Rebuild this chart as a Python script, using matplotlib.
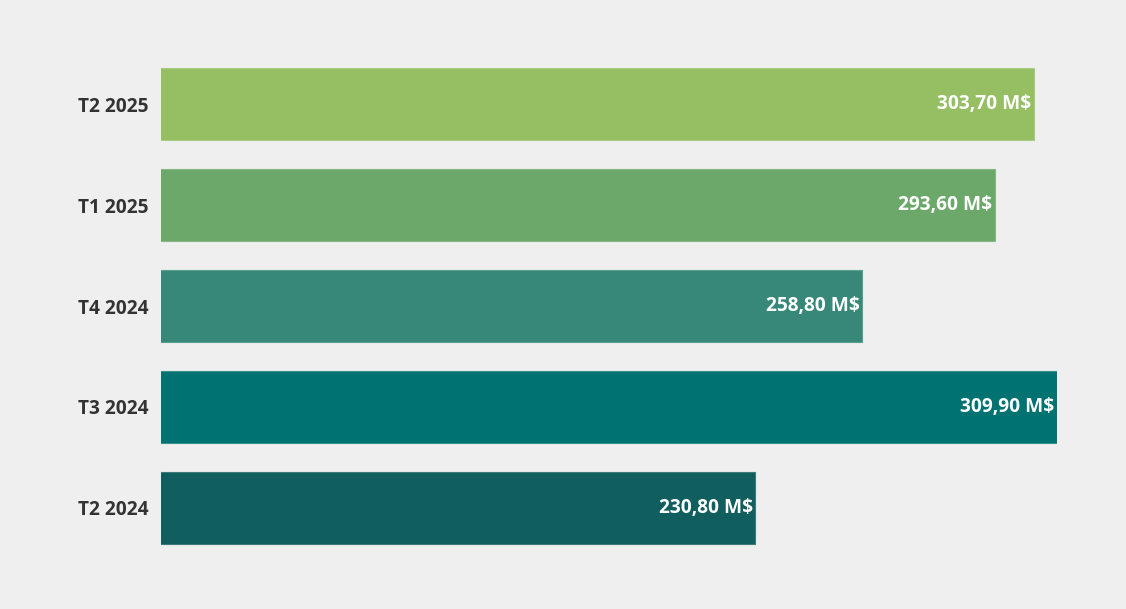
import matplotlib
matplotlib.use("Agg")
from matplotlib import pyplot as plt
from matplotlib import transforms

quarters = ["T2 2025", "T1 2025", "T4 2024", "T3 2024", "T2 2024"]
revenue = [303.70, 293.60, 258.80, 309.90, 230.80]
value_labels = ["303,70 M$", "293,60 M$", "258,80 M$", "309,90 M$", "230,80 M$"]
colors = ["#95bf62", "#6da86b", "#378878", "#007271", "#115e5e"]
edges = ["#a9cc80", "#86b884", "#5a9e91", "#3a8f8c", "#3d7a7a"]

bg = "#efefef"
plt.rcParams["font.family"] = ["Open Sans", "DejaVu Sans"]

fig = plt.figure(figsize=(11.26, 6.09), dpi=100, facecolor=bg)
ax = fig.add_axes([0.143, 0.083, 0.796, 0.829], facecolor=bg)

ypos = list(range(len(quarters)))[::-1]
ax.barh(ypos, revenue, height=0.72, color=colors, edgecolor=edges, linewidth=0.8)

shift = transforms.offset_copy(ax.transData, fig=fig, x=-2, y=0, units="points")
for y, v, lab in zip(ypos, revenue, value_labels):
    ax.text(v, y, lab, transform=shift, ha="right", va="center",
            color="white", fontweight="bold", fontsize=13.8)

ax.set_xlim(75, 309.9)
ax.set_ylim(-0.5, 4.5)
ax.set_yticks(ypos)
ax.set_yticklabels(quarters, fontweight="bold", fontsize=13.8, color="#333333")
ax.set_xticks([])
ax.tick_params(axis="y", length=0, pad=9)
for s in ax.spines.values():
    s.set_visible(False)

fig.savefig("out.png", dpi=100, facecolor=bg)
